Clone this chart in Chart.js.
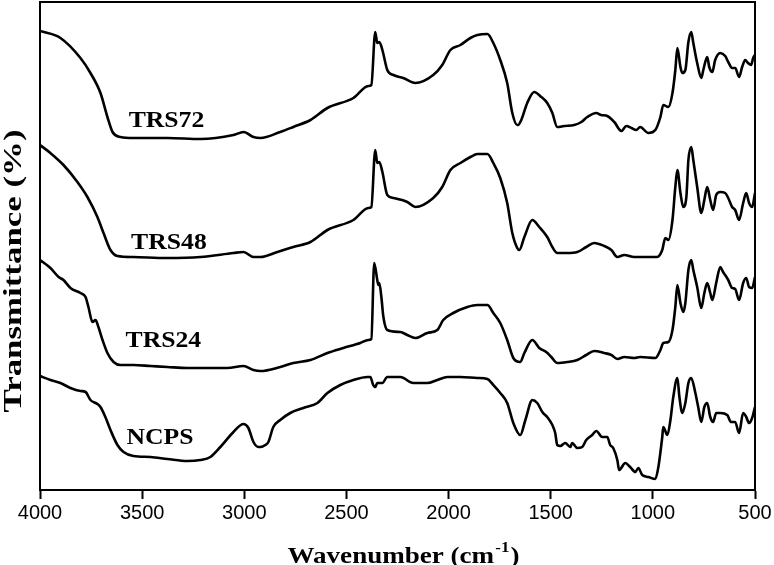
<!DOCTYPE html>
<html>
<head>
<meta charset="utf-8">
<script src="https://cdn.jsdelivr.net/npm/chart.js@4/dist/chart.umd.min.js"></script>
<style>
  html, body { margin: 0; padding: 0; background: #fff; }
  #wrap { width: 774px; height: 565px; }
</style>
</head>
<body>
<div id="wrap"><canvas id="c" width="774" height="565"></canvas></div>
<script>
// ---- data (transmittance in arbitrary units, offset stacked as in the figure) ----
const xTicks = [4000, 3500, 3000, 2500, 2000, 1500, 1000, 500];
const seriesNames = ['TRS72', 'TRS48', 'TRS24', 'NCPS'];

const trs72Wavenumbers = [4000,3900,3802,3753,3704,3670,3645,3606,3543,3376,3215,3053,3004,2955,2921,2824,2760,2676,2593,2466,2393,2378,2359,2349,2339,2324,2300,2270,2222,2163,2075,2031,1991,1942,1893,1859,1810,1781,1747,1713,1688,1664,1660,1644,1615,1581,1546,1517,1492,1468,1434,1385,1350,1321,1277,1253,1223,1189,1154,1130,1105,1081,1062,1022,988,963,949,924,904,890,880,865,856,841,826,812,802,783,763,753,734,724,709,695,670,646,631,612,597,578,563,548,534,519,509,500];
const trs72Values = [459,452,432,417,397,373,358,353,352,352,351,355,358,353,352,358,363,370,382,392,404,405,458,447,448,440,420,415,412,407,415,425,440,445,452,455,456,447,430,407,377,365,365,370,387,398,393,387,377,363,364,365,368,373,377,375,374,368,359,364,362,360,363,357,360,373,385,383,397,420,442,423,417,420,448,458,447,427,412,420,433,423,418,430,437,434,428,422,422,413,423,430,427,425,432,435];

const trs48Wavenumbers = [4000,3949,3885,3817,3768,3719,3689,3655,3621,3543,3376,3215,3053,3004,2955,2921,2838,2760,2676,2593,2466,2393,2378,2359,2349,2339,2324,2300,2270,2202,2163,2075,2031,1991,1942,1893,1859,1810,1781,1747,1713,1688,1664,1654,1629,1590,1556,1517,1492,1468,1419,1370,1326,1287,1238,1203,1174,1140,1091,1042,979,954,939,924,904,890,880,865,851,836,826,812,802,783,763,748,734,719,705,690,670,646,631,612,597,578,558,543,529,514,500];
const trs48Values = [345,337,325,308,293,273,257,240,234,233,232,233,237,238,233,233,238,243,248,260,270,282,283,340,327,328,318,295,292,288,283,292,303,320,327,333,336,336,327,312,287,257,242,240,253,270,263,253,243,237,237,238,243,247,244,240,233,235,233,233,233,240,252,250,270,303,320,297,283,293,330,343,330,303,277,290,303,290,280,295,298,297,292,283,280,270,287,297,287,283,297];

const trs24Wavenumbers = [4000,3949,3909,3885,3851,3802,3777,3763,3743,3728,3714,3694,3670,3640,3606,3543,3459,3376,3278,3180,3083,3004,2955,2921,2824,2760,2676,2593,2515,2432,2393,2378,2364,2349,2344,2339,2329,2319,2300,2236,2202,2163,2104,2055,2026,1977,1908,1859,1810,1781,1747,1713,1683,1649,1629,1590,1556,1522,1497,1468,1419,1370,1326,1287,1238,1203,1174,1140,1091,1062,988,963,949,924,904,890,880,865,851,841,826,812,802,783,763,748,734,719,709,690,670,656,631,612,597,578,558,543,529,514,500];
const trs24Values = [230,222,213,210,202,197,193,183,168,170,163,150,137,128,125,125,124,123,122,122,122,124,120,119,123,127,130,137,142,147,150,151,227,210,205,207,193,173,160,158,155,152,157,160,170,177,183,185,185,177,167,150,132,128,137,150,142,138,133,127,128,130,135,139,137,135,131,133,132,133,132,140,147,148,160,183,205,187,178,187,220,230,220,203,182,197,207,197,190,207,223,218,210,202,201,190,207,212,203,202,213];

const ncpsWavenumbers = [4000,3949,3900,3851,3802,3777,3753,3719,3704,3680,3655,3621,3591,3543,3459,3376,3278,3215,3166,3117,3053,3004,2980,2955,2931,2921,2897,2882,2858,2824,2775,2711,2642,2593,2530,2466,2397,2383,2369,2359,2349,2324,2300,2236,2173,2104,2055,2006,1942,1859,1810,1781,1747,1713,1683,1649,1624,1590,1566,1541,1517,1492,1478,1468,1453,1429,1404,1395,1370,1346,1326,1297,1277,1248,1223,1209,1194,1174,1165,1135,1111,1086,1071,1052,1022,988,973,954,949,929,914,900,880,870,856,841,826,812,792,778,763,748,734,719,705,690,670,636,617,597,578,558,543,529,514,500];
const ncpsValues = [114,110,107,102,99,98,90,86,83,73,60,45,38,34,33,31,29,30,33,43,58,66,62,48,43,43,45,48,63,70,77,82,87,97,105,110,113,113,105,103,107,107,113,113,107,107,110,113,113,112,111,105,97,87,67,55,70,90,87,78,73,65,57,45,44,47,43,47,42,43,50,55,59,53,53,45,42,30,20,27,23,18,22,15,13,11,23,53,63,55,70,93,112,93,77,87,107,112,97,83,68,83,87,73,68,77,77,75,68,68,57,77,73,67,72,83];

// series label anchor points (wavenumber, transmittance units)
const labelWavenumbers = [3381, 3369, 3396, 3413];
const labelValues = [363, 241, 143, 46];

const xTitle = 'Wavenumber (cm';
const xTitleSup = '-1';
const yTitle = 'Transmittance (%)';

function pts(xs, ys) { return xs.map((v, i) => ({ x: v, y: ys[i] })); }

const seriesData = [
  pts(trs72Wavenumbers, trs72Values),
  pts(trs48Wavenumbers, trs48Values),
  pts(trs24Wavenumbers, trs24Values),
  pts(ncpsWavenumbers, ncpsValues)
];

const SERIF = '"Liberation Serif", "Times New Roman", "DejaVu Serif", serif';
const SANS = '"Liberation Sans", Arial, sans-serif';

function stretchedText(ctx, text, x, y, sx) {
  ctx.save();
  ctx.translate(x, y);
  ctx.scale(sx, 1);
  ctx.fillText(text, 0, 0);
  ctx.restore();
}

const decor = {
  id: 'decor',
  afterDraw(chart) {
    const { ctx, chartArea: a, scales } = chart;
    const xs = scales.x, ys = scales.y;
    ctx.save();
    // frame
    ctx.strokeStyle = '#000';
    ctx.lineWidth = 2;
    ctx.strokeRect(a.left, a.top, a.right - a.left, a.bottom - a.top);

    ctx.fillStyle = '#000';
    // series labels
    ctx.font = 'bold 24px ' + SERIF;
    ctx.textAlign = 'center';
    ctx.textBaseline = 'alphabetic';
    seriesNames.forEach((n, i) => {
      stretchedText(ctx, n, xs.getPixelForValue(labelWavenumbers[i]), ys.getPixelForValue(labelValues[i]), 1.07);
    });

    // x title with superscript
    const bigFont = 'bold 24px ' + SERIF;
    const supFont = 'bold 15px ' + SERIF;
    ctx.textAlign = 'left';
    ctx.font = bigFont;
    const w1 = ctx.measureText(xTitle).width;
    const w3 = ctx.measureText(')').width;
    ctx.font = supFont;
    const w2 = ctx.measureText(xTitleSup).width;
    const natural = w1 + w2 + w3 + 2;
    const targetW = 232;
    const sx = targetW / natural;
    const cx = (a.left + a.right) / 2 + 6;
    const base = 563;
    ctx.save();
    ctx.translate(cx - targetW / 2, base);
    ctx.scale(sx, 1);
    ctx.font = bigFont;
    ctx.fillText(xTitle, 0, 0);
    ctx.font = supFont;
    ctx.fillText(xTitleSup, w1 + 1, -11);
    ctx.font = bigFont;
    ctx.fillText(')', w1 + w2 + 2, 0);
    ctx.restore();

    // y title rotated
    ctx.font = 'bold 26px ' + SERIF;
    ctx.textAlign = 'center';
    const yw = ctx.measureText(yTitle).width;
    ctx.save();
    ctx.translate(21, 271);
    ctx.rotate(-Math.PI / 2);
    ctx.scale(283 / yw, 1);
    ctx.fillText(yTitle, 0, 0);
    ctx.restore();

    ctx.restore();
  }
};

new Chart(document.getElementById('c'), {
  type: 'line',
  data: {
    datasets: seriesData.map((d, i) => ({
      label: seriesNames[i],
      data: d,
      borderColor: '#000',
      backgroundColor: '#000',
      borderWidth: 2.6,
      pointRadius: 0,
      cubicInterpolationMode: 'monotone',
      borderJoinStyle: 'round',
      fill: false
    }))
  },
  options: {
    responsive: false,
    animation: false,
    devicePixelRatio: 1,
    layout: { padding: { left: 0, top: 2, right: 19, bottom: 0 } },
    plugins: { legend: { display: false }, tooltip: { enabled: false }, title: { display: false } },
    scales: {
      x: {
        type: 'linear',
        reverse: true,
        min: 500,
        max: 4000,
        afterBuildTicks: (s) => { s.ticks = xTicks.map(v => ({ value: v })); },
        afterFit: (s) => { s.height = 75; s.paddingLeft = 0; s.paddingRight = 0; },
        ticks: { color: '#000', font: { family: SANS, size: 20 }, padding: 2, maxRotation: 0, autoSkip: false,
                 callback: (v) => String(v) },
        grid: { display: true, drawOnChartArea: false, drawTicks: true, tickLength: 9, tickWidth: 2, tickColor: '#000' },
        border: { display: true, color: '#000', width: 2 },
        title: { display: false }
      },
      y: {
        min: 0,
        max: 488,
        afterFit: (s) => { s.width = 40; },
        ticks: { display: false },
        grid: { display: false, drawTicks: false },
        border: { display: true, color: '#000', width: 2 },
        title: { display: false }
      }
    }
  },
  plugins: [decor]
});
</script>
</body>
</html>
